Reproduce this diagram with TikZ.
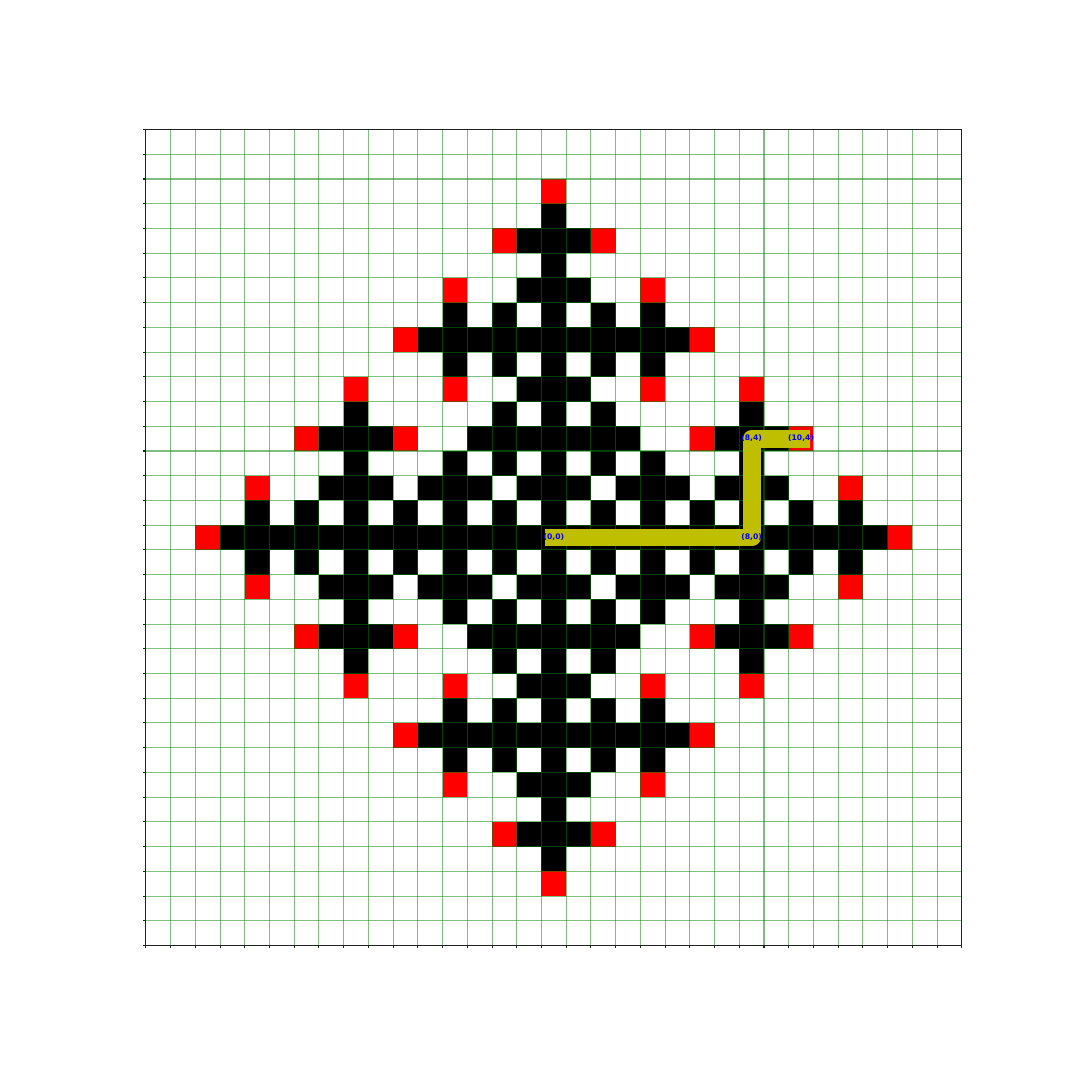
\documentclass[tikz,border=0pt]{standalone}
\usepackage{fontspec}
\usepackage{xcolor}
\newfontfamily\ptfont{DejaVu Sans}
\definecolor{cGrid}{RGB}{0,128,0}
\definecolor{cRoute}{RGB}{191,191,0}
\definecolor{cFrame}{RGB}{34,34,34}
\tikzset{
	blackcell/.style={fill=black},
	redcell/.style  ={fill=red},
	gridline/.style ={draw=cGrid, draw opacity=0.5, line width=0.6pt},
	tickmark/.style ={draw=cFrame, line width=0.6pt},
	framebox/.style ={draw=cFrame, line width=0.7pt},
	route/.style    ={draw=cRoute, line width=10.3pt, line cap=rect, line join=round},
	ptlabel/.style  ={font=\ptfont\bfseries\fontsize{4.4}{5}\selectfont, text=blue, inner sep=0pt},
}

\begin{document}
\begin{tikzpicture}[x=0.5cm, y=0.5cm]
	\useasboundingbox (-22.40,-21.94) rectangle (21.28,21.74);
	% black cells, mirrored about the middle row
	\foreach \j/\cols in {13/{0}, 12/{-1,0,1}, 11/{0}, 10/{-1,0,1}, 9/{-4,-2,0,2,4},
			8/{-5,...,5}, 7/{-4,-2,0,2,4}, 6/{-1,0,1}, 5/{-8,-2,0,2,8},
			4/{-9,-8,-7,-3,-2,-1,0,1,2,3,7,8,9}, 3/{-8,-4,-2,0,2,4,8},
			2/{-9,-8,-7,-5,-4,-3,-1,0,1,3,4,5,7,8,9}, 1/{-12,-10,...,12}} {
		\foreach \i in \cols {
			\fill[blackcell] (\i-0.5,\j-0.5) rectangle ++(1,1);
			\fill[blackcell] (\i-0.5,-\j-0.5) rectangle ++(1,1);
		}
	}
	\foreach \i in {-13,...,13} {
		\fill[blackcell] (\i-0.5,-0.5) rectangle ++(1,1);
	}
	% red cells
	\foreach \i/\j in {0/14, -2/12, 2/12, -4/10, 4/10, -6/8, 6/8, -8/6, -4/6, 4/6, 8/6,
			-10/4, -6/4, 6/4, 10/4, -12/2, 12/2, -14/0, 14/0} {
		\fill[redcell] (\i-0.5,\j-0.5) rectangle ++(1,1);
		\fill[redcell] (\i-0.5,-\j-0.5) rectangle ++(1,1);
	}
	% grid and ticks
	\foreach \k in {-16,...,17} {
		\draw[gridline] (\k-0.5,-16.5) -- (\k-0.5,16.5);
		\draw[gridline] (-16.5,\k-0.5) -- (16.5,\k-0.5);
		\draw[tickmark] (\k-0.5,-16.5) -- ++(0,-0.1);
		\draw[tickmark] (-16.5,\k-0.5) -- ++(-0.1,0);
	}
	\draw[framebox] (-16.5,-16.5) rectangle (16.5,16.5);
	% route
	\coordinate (p00) at (0,0);
	\coordinate (p80) at (8,0);
	\coordinate (p84) at (8,4);
	\coordinate (p104) at (10,4);
	\draw[route] (p00) -- (p80) -- (p84) -- (p104);
	\node[ptlabel] (l00) at (p00) {(0,0)};
	\node[ptlabel] (l80) at (p80) {(8,0)};
	\node[ptlabel] (l84) at (p84) {(8,4)};
	\node[ptlabel] (l104) at (p104) {(10,4)};
\end{tikzpicture}
\end{document}
